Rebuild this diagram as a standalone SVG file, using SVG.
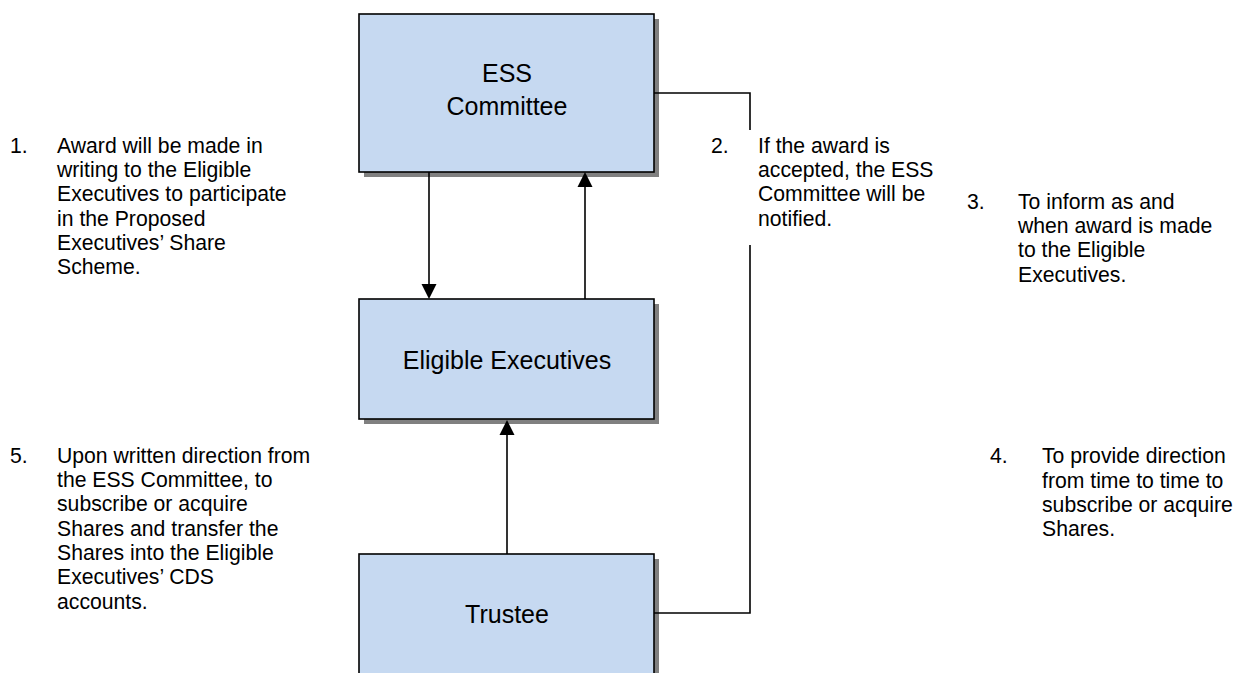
<svg xmlns="http://www.w3.org/2000/svg" width="1244" height="673" viewBox="0 0 1244 673">
<defs>
<style>
.box{fill:#c6d9f1;stroke:#000;stroke-width:1.6}
.shadow{fill:#808080}
.bt{font-family:"Liberation Sans",Arial,sans-serif;font-size:25px;fill:#000;text-anchor:middle}
.lt{font-family:"Liberation Sans",Arial,sans-serif;font-size:21.2px;fill:#000}
.ln{fill:none;stroke:#000;stroke-width:1.6}
</style>
</defs>
<rect width="1244" height="673" fill="#fff"/>
<g id="ess">
<rect class="shadow" x="364" y="19" width="295" height="158"/>
<rect class="box" x="359" y="14" width="295" height="158"/>
<text class="bt" x="507" y="82">ESS</text>
<text class="bt" x="507" y="115">Committee</text>
</g>
<g id="eligible">
<rect class="shadow" x="364" y="304" width="295" height="120"/>
<rect class="box" x="359" y="299" width="295" height="120"/>
<text class="bt" x="507" y="369">Eligible Executives</text>
</g>
<g id="trustee">
<rect class="shadow" x="364" y="559" width="295" height="140"/>
<rect class="box" x="359" y="554" width="295" height="140"/>
<text class="bt" x="507" y="623">Trustee</text>
</g>
<g id="connectors">
<path class="ln" d="M429,172 V284"/>
<path d="M421.5,284 L436.5,284 L429,299 Z" fill="#000"/>
<path class="ln" d="M585,299 V187"/>
<path d="M577.5,187 L592.5,187 L585,172 Z" fill="#000"/>
<path class="ln" d="M507,554 V435"/>
<path d="M499.5,435 L514.5,435 L507,420 Z" fill="#000"/>
<path class="ln" d="M654,93 H750 V130"/>
<path class="ln" d="M750,245 V613 H654"/>
</g>
<g id="label1" class="lt">
<text x="10" y="153">1.</text>
<text x="57" y="153">Award will be made in</text>
<text x="57" y="177">writing to the Eligible</text>
<text x="57" y="201">Executives to participate</text>
<text x="57" y="226">in the Proposed</text>
<text x="57" y="250">Executives’ Share</text>
<text x="57" y="274">Scheme.</text>
</g>
<g id="label2" class="lt">
<text x="711" y="153">2.</text>
<text x="758" y="153">If the award is</text>
<text x="758" y="177">accepted, the ESS</text>
<text x="758" y="201">Committee will be</text>
<text x="758" y="226">notified.</text>
</g>
<g id="label3" class="lt">
<text x="967" y="209">3.</text>
<text x="1018" y="209">To inform as and</text>
<text x="1018" y="233">when award is made</text>
<text x="1018" y="257">to the Eligible</text>
<text x="1018" y="282">Executives.</text>
</g>
<g id="label4" class="lt">
<text x="990" y="463">4.</text>
<text x="1042" y="463">To provide direction</text>
<text x="1042" y="488">from time to time to</text>
<text x="1042" y="512">subscribe or acquire</text>
<text x="1042" y="536">Shares.</text>
</g>
<g id="label5" class="lt">
<text x="10" y="463">5.</text>
<text x="57" y="463">Upon written direction from</text>
<text x="57" y="487">the ESS Committee, to</text>
<text x="57" y="511">subscribe or acquire</text>
<text x="57" y="536">Shares and transfer the</text>
<text x="57" y="560">Shares into the Eligible</text>
<text x="57" y="584">Executives’ CDS</text>
<text x="57" y="609">accounts.</text>
</g>
</svg>
